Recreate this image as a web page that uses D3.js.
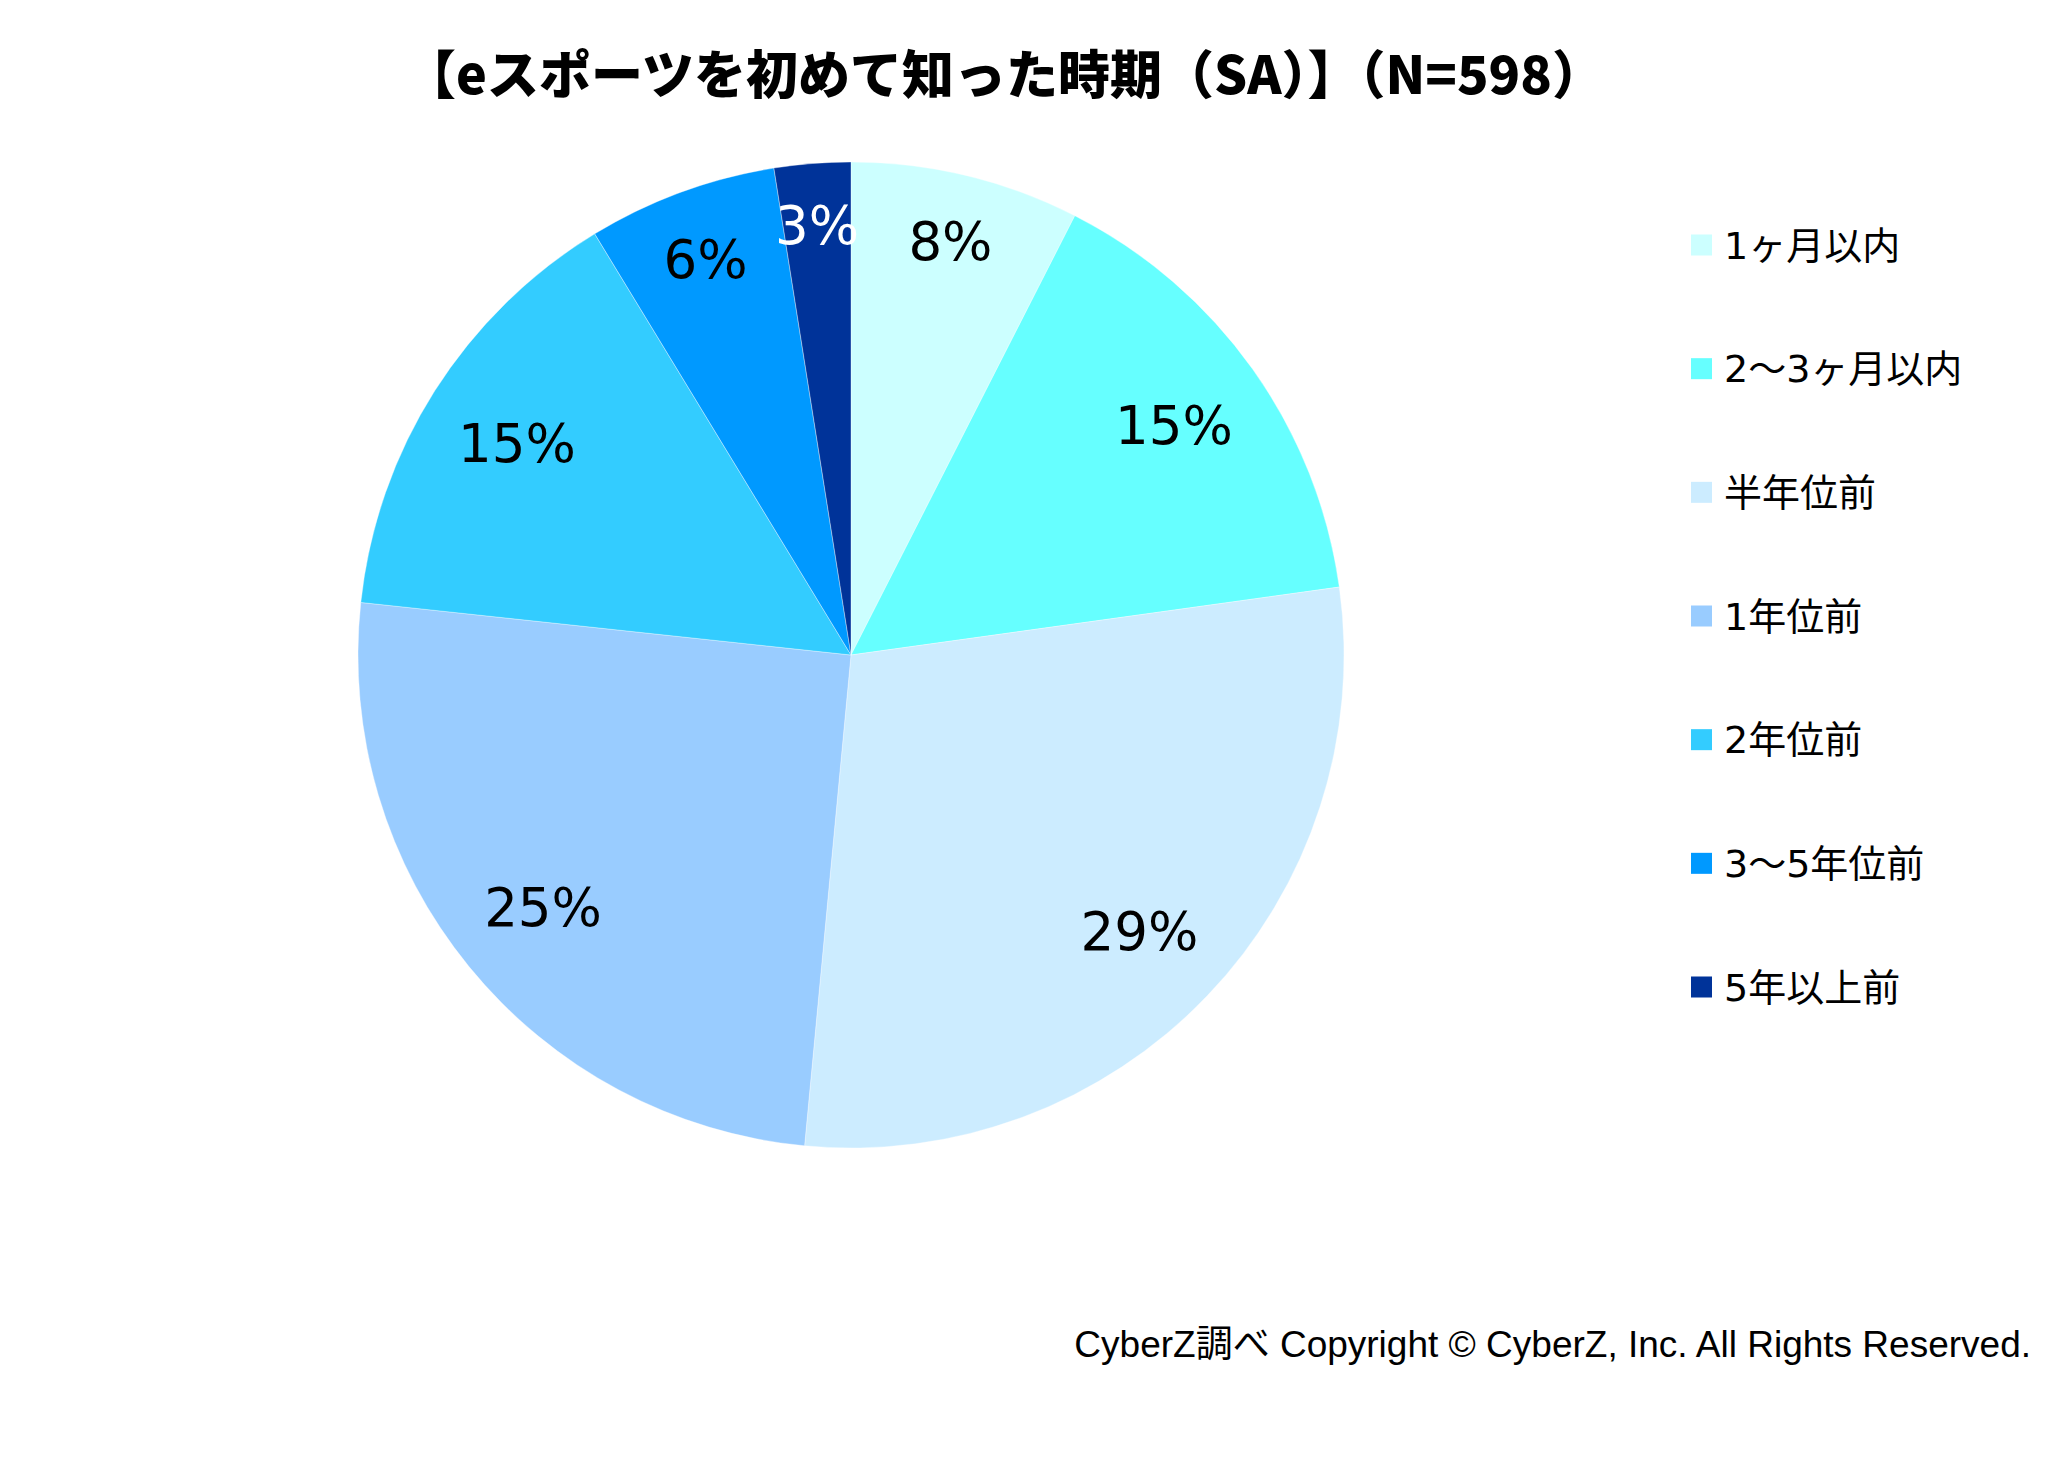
<!DOCTYPE html>
<html>
<head>
<meta charset="utf-8">
<script src="https://cdn.jsdelivr.net/npm/d3@7"></script>
<style>
  html, body { margin: 0; padding: 0; background: #fff; }
  svg { display: block; }
</style>
</head>
<body>
<script>
// ---- data ----
const categories = ["1ヶ月以内", "2〜3ヶ月以内", "半年位前", "1年位前", "2年位前", "3〜5年位前", "5年以上前"];
const values = [7.5, 15.3, 28.7, 25.2, 14.6, 6.2, 2.5];
const colors = ["#CCFFFF", "#66FFFF", "#CCECFF", "#99CCFF", "#33CCFF", "#0099FF", "#003399"];
const labelColors = ["#000", "#000", "#000", "#000", "#000", "#000", "#fff"];
const titleText = "【eスポーツを初めて知った時期（SA）】（N=598）";
const footerText = "CyberZ調べ Copyright © CyberZ, Inc. All Rights Reserved.";

// ---- layout ----
const W = 2055, H = 1464;
const cx = 851, cy = 655, R = 493;
const labelFont = 53;

const svg = d3.select("body").append("svg").attr("width", W).attr("height", H);

// title
svg.append("text")
  .attr("x", 1004).attr("y", 94)
  .attr("text-anchor", "middle")
  .attr("font-family", "'Noto Sans CJK JP', sans-serif")
  .attr("font-weight", "900")
  .attr("font-size", 52)
  .attr("fill", "#000")
  .text(titleText);

const data = categories.map((c, i) => ({ cat: c, value: values[i], color: colors[i], lc: labelColors[i] }));

const pie = d3.pie().value(d => d.value).sort(null);
const arcs = pie(data);
const arc = d3.arc().innerRadius(0).outerRadius(R);

const g = svg.append("g").attr("transform", `translate(${cx},${cy})`);

g.selectAll("path.slice").data(arcs).enter().append("path")
  .attr("class", "slice")
  .attr("d", arc)
  .attr("fill", d => d.data.color)
  .attr("stroke", "#fff")
  .attr("stroke-width", 0.6)
  .attr("stroke-opacity", 0.6);

// labels: "inside end" placement, outer corner of the label box touching K
const K = R * 0.925;
g.selectAll("text.lbl").data(arcs).enter().append("text")
  .attr("class", "lbl")
  .attr("font-family", "'DejaVu Sans', Verdana, sans-serif")
  .attr("font-size", labelFont)
  .attr("fill", d => d.data.lc)
  .attr("text-anchor", "middle")
  .text(d => Math.round(d.data.value) + "%")
  .each(function(d) {
    const w = this.getComputedTextLength();
    const h = labelFont * 0.73;
    const a = (d.startAngle + d.endAngle) / 2;
    const s = Math.sin(a), c = Math.cos(a);
    const ex = (s >= 0 ? 1 : -1) * w / 2;
    const ey = (-c >= 0 ? 1 : -1) * h / 2;
    const b = s * ex - c * ey;
    const cc = ex * ex + ey * ey - K * K;
    const dist = -b + Math.sqrt(b * b - cc);
    const x = dist * s, y = -dist * c;
    d3.select(this).attr("x", x).attr("y", y + h / 2);
  });

// legend
const legendY = d3.scalePoint().domain(categories).range([245, 987]);
const lg = svg.append("g");
const rows = lg.selectAll("g").data(data).enter().append("g")
  .attr("transform", d => `translate(1699,${legendY(d.cat)})`);
rows.append("rect")
  .attr("x", -8).attr("y", -10.5).attr("width", 21).attr("height", 21)
  .attr("fill", d => d.color);
rows.append("text")
  .attr("x", 25).attr("y", 13.5)
  .attr("font-family", "'DejaVu Sans', 'Noto Sans CJK JP', sans-serif")
  .attr("font-size", 38)
  .attr("fill", "#000")
  .text(d => d.cat);

// footer
svg.append("text")
  .attr("x", 2031).attr("y", 1357)
  .attr("text-anchor", "end")
  .attr("font-family", "'Liberation Sans', Arial, 'Noto Sans CJK JP', sans-serif")
  .attr("font-size", 37)
  .attr("fill", "#000")
  .text(footerText);
</script>
</body>
</html>
